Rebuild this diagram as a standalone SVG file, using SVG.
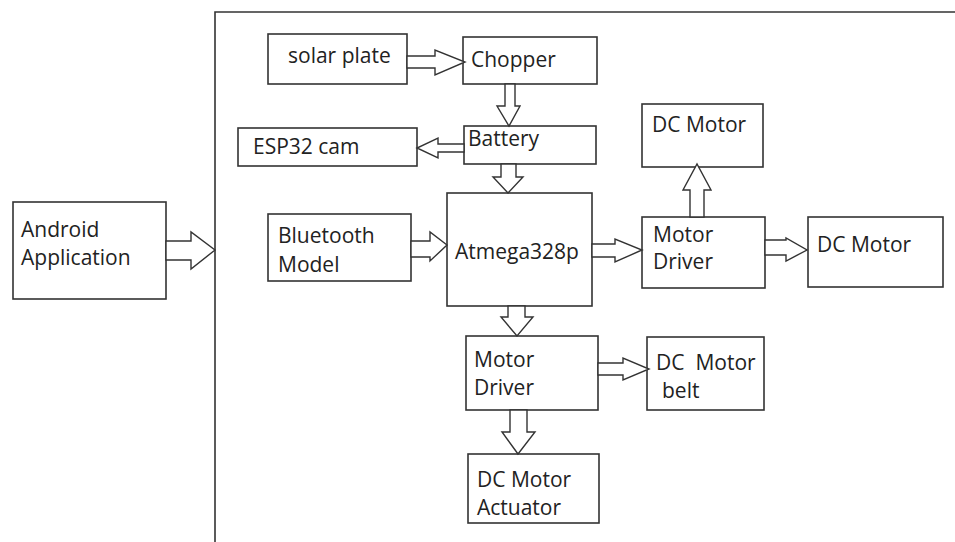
<svg xmlns="http://www.w3.org/2000/svg" width="955" height="542" viewBox="0 0 955 542">
<style>
.b{fill:#fff;stroke:#333;stroke-width:1.6}
.a{fill:#fff;stroke:#333;stroke-width:1.4;stroke-linejoin:miter}
text{font-family:"Open Sans","Liberation Sans",sans-serif;font-size:21px;fill:#222;white-space:pre}
</style>
<rect width="955" height="542" fill="#fff"/>
<path d="M215,542 V12 H955" fill="none" stroke="#333" stroke-width="1.6"/>
<g id="solar"><rect class="b" x="268" y="34" width="139" height="50"/><text x="288" y="63">solar plate</text></g>
<g id="chopper"><rect class="b" x="463" y="37" width="134" height="47"/><text x="471" y="67">Chopper</text></g>
<g id="battery"><rect class="b" x="464" y="126" width="132" height="38"/><text x="468" y="146">Battery</text></g>
<g id="esp32"><rect class="b" x="238" y="128" width="179" height="38"/><text x="253" y="154">ESP32 cam</text></g>
<g id="atmega"><rect class="b" x="447" y="193" width="145" height="113"/><text x="455" y="259">Atmega328p</text></g>
<g id="bluetooth"><rect class="b" x="268" y="214" width="143" height="67"/><text x="278" y="243">Bluetooth</text><text x="278" y="272">Model</text></g>
<g id="android"><rect class="b" x="13" y="202" width="153" height="97"/><text x="21" y="237">Android</text><text x="21" y="265">Application</text></g>
<g id="driver1"><rect class="b" x="642" y="217" width="123" height="71"/><text x="653" y="242">Motor</text><text x="653" y="269">Driver</text></g>
<g id="dcmotor1"><rect class="b" x="808" y="217" width="135" height="70"/><text x="817" y="252">DC Motor</text></g>
<g id="dcmotor2"><rect class="b" x="642" y="104" width="121" height="63"/><text x="652" y="132">DC Motor</text></g>
<g id="driver2"><rect class="b" x="466" y="336" width="132" height="74"/><text x="474" y="367">Motor</text><text x="474" y="395">Driver</text></g>
<g id="belt"><rect class="b" x="647" y="337" width="117" height="73"/><text x="656" y="370" xml:space="preserve">DC  Motor</text><text x="662" y="398">belt</text></g>
<g id="actuator"><rect class="b" x="468" y="454" width="131" height="69"/><text x="477" y="487">DC Motor</text><text x="477" y="515">Actuator</text></g>
<g id="connectors">
<polygon class="a" points="407,56 435,56 435,50 465,62 435,75 435,68 407,68"/>
<polygon class="a" points="505,84 515,84 515,106 520,106 509,126 497,106 505,106"/>
<polygon class="a" points="464,144 438,144 438,138 417,148 438,158 438,152 464,152"/>
<polygon class="a" points="501,164 516,164 516,177 523,177 508,193 493,177 501,177"/>
<polygon class="a" points="411,241 430,241 430,232 447,245 430,261 430,257 411,257"/>
<polygon class="a" points="166,241 191,241 191,232 215,250 191,269 191,260 166,260"/>
<polygon class="a" points="592,244 615,244 615,239 642,250 615,262 615,257 592,257"/>
<polygon class="a" points="765,240 786,240 786,238 807,250 786,261 786,255 765,255"/>
<polygon class="a" points="690,217 690,190 683,190 697,164 711,190 704,190 704,217"/>
<polygon class="a" points="508,306 525,306 525,317 533,317 517,336 501,317 508,317"/>
<polygon class="a" points="598,363 623,363 623,358 649,369 623,380 623,375 598,375"/>
<polygon class="a" points="510,410 527,410 527,432 535,432 518,454 502,432 510,432"/>
</g>
</svg>
